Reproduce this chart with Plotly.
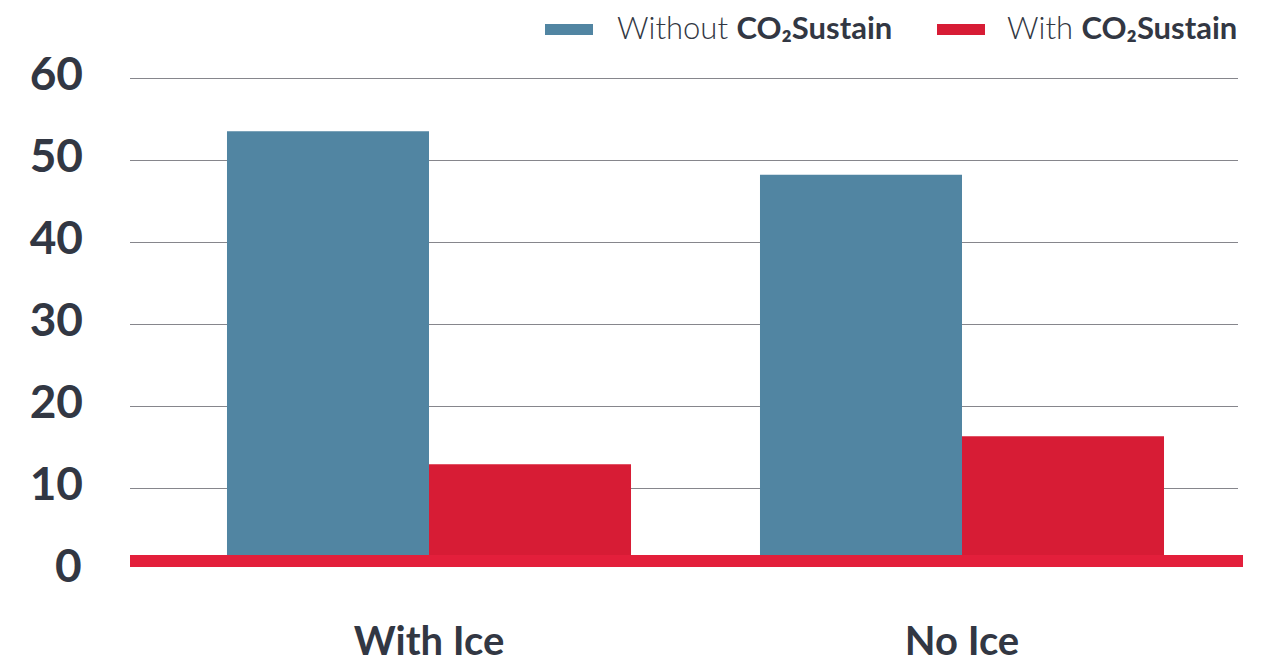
import plotly.graph_objects as go

categories = ["With Ice", "No Ice"]
without_vals = [53.5, 48.2]
with_vals = [12.9, 16.3]
series_names = ["Without <b>CO₂Sustain</b>", "With <b>CO₂Sustain</b>"]
y_ticks = [10, 20, 30, 40, 50, 60]
zero_label = "0"

BLUE = "#5185a2"
RED = "#d71c35"
LINE_RED = "#e31f3b"
TEXT = "#323743"
FONT = "Lato"

W, H = 1261, 664
L, R, T, B = 130, 23, 70, 97
plot_w = W - L - R
plot_h = H - T - B

fig = go.Figure()
fig.add_trace(go.Bar(x=categories, y=without_vals, marker=dict(color=BLUE, line=dict(width=0)),
                     name=series_names[0], showlegend=False))
fig.add_trace(go.Bar(x=categories, y=with_vals, marker=dict(color=RED, line=dict(width=0)),
                     name=series_names[1], showlegend=False))

# pixel helpers for layout-only placement
def px(xp):
    return (xp - L) / plot_w

def py(yp):
    return (H - B - yp) / plot_h

# thick red baseline
fig.add_shape(type="rect", xref="paper", yref="paper", x0=0, x1=px(1243), y0=0, y1=py(555),
              fillcolor=LINE_RED, line=dict(width=0), layer="above")

# manual legend
legend_x = [(545, 615), (937, 1005)]
colors = [BLUE, RED]
for (sx, tx), c, name in zip(legend_x, colors, series_names):
    fig.add_shape(type="rect", xref="paper", yref="paper", x0=px(sx), x1=px(sx + 48),
                  y0=py(35), y1=py(24), fillcolor=c, line=dict(width=0))
    fig.add_annotation(text=name, xref="paper", yref="paper", x=px(tx), y=py(27),
                       xanchor="left", yanchor="middle", showarrow=False,
                       font=dict(family=FONT, size=31, color=TEXT, weight=300))

# "0" label (value 0 sits just below the clipped range)
fig.add_annotation(text=zero_label, xref="paper", yref="paper", x=px(84), y=py(564),
                   xanchor="right", yanchor="middle", showarrow=False,
                   font=dict(family=FONT, size=46, color=TEXT, weight=700))

s = 8.2
fig.update_layout(
    width=W, height=H,
    margin=dict(l=L, r=R, t=T, b=B, pad=0, autoexpand=False),
    paper_bgcolor="white", plot_bgcolor="white",
    barmode="group", bargap=0.242, bargroupgap=0,
    showlegend=False,
    font=dict(family=FONT, color=TEXT),
    xaxis=dict(range=[(130 - 429) / 533, (1238 - 429) / 533], showgrid=False, zeroline=False,
               showline=False, ticks="", automargin=False,
               tickfont=dict(family=FONT, size=40, color=TEXT, weight=700),
               ticklabelstandoff=47),
    yaxis=dict(range=[(570 - 567) / s, (570 - 70) / s], tickvals=y_ticks, automargin=False,
               showgrid=True, gridcolor="#86868c", gridwidth=1, zeroline=False, showline=False,
               ticks="", tickfont=dict(family=FONT, size=46, color=TEXT, weight=700),
               ticklabelstandoff=46, ticklabelshift=-4),
)

fig.write_html("out.html")
